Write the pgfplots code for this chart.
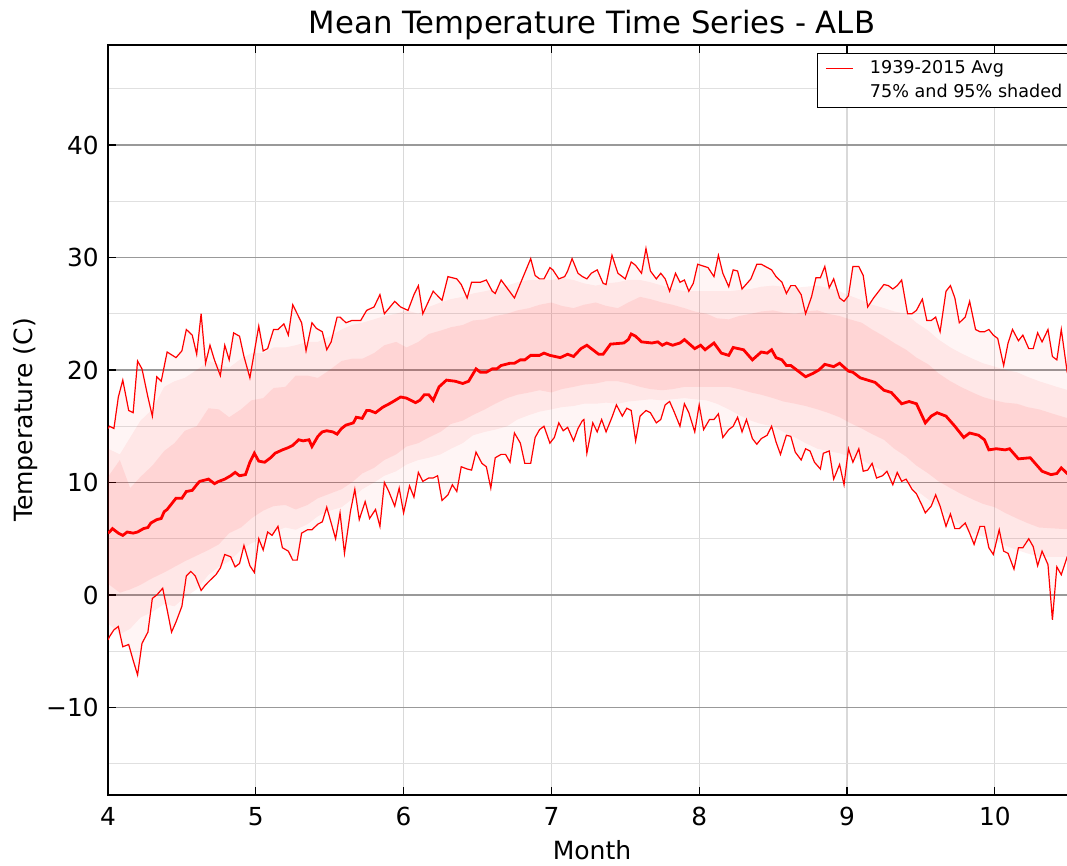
\documentclass[border=0pt]{standalone}
\usepackage{fontspec}
\setmainfont{DejaVu Sans}
\usepackage{pgfplots}
\usepackage{pgfplotstable}
\pgfplotsset{compat=1.18}
\usepgfplotslibrary{fillbetween}

% daily mean, 1939-2015 average
\pgfplotstableread{
m v
4.00 5.5
4.01 5.6
4.03 5.9
4.07 5.5
4.10 5.3
4.13 5.6
4.17 5.5
4.20 5.6
4.24 5.9
4.27 6.0
4.29 6.4
4.33 6.7
4.36 6.8
4.38 7.4
4.40 7.6
4.43 8.1
4.46 8.6
4.50 8.6
4.53 9.2
4.57 9.3
4.60 9.8
4.62 10.1
4.65 10.2
4.68 10.3
4.72 9.9
4.75 10.1
4.79 10.3
4.83 10.6
4.86 10.9
4.89 10.6
4.93 10.7
4.96 11.8
4.99 12.6
5.02 11.9
5.06 11.8
5.10 12.2
5.13 12.6
5.18 12.9
5.22 13.1
5.25 13.3
5.29 13.8
5.32 13.7
5.36 13.8
5.38 13.2
5.42 14.1
5.45 14.5
5.48 14.6
5.52 14.5
5.55 14.3
5.58 14.8
5.61 15.1
5.66 15.3
5.68 15.8
5.72 15.7
5.75 16.4
5.77 16.4
5.81 16.2
5.86 16.7
5.89 16.9
5.93 17.2
5.98 17.6
6.02 17.5
6.08 17.1
6.11 17.3
6.14 17.8
6.17 17.8
6.20 17.3
6.24 18.5
6.29 19.1
6.35 19.0
6.40 18.8
6.44 19.0
6.49 20.1
6.52 19.8
6.56 19.8
6.60 20.1
6.63 20.1
6.66 20.4
6.72 20.6
6.75 20.6
6.79 20.9
6.82 20.9
6.86 21.3
6.92 21.3
6.95 21.5
6.99 21.3
7.06 21.1
7.11 21.4
7.15 21.2
7.20 21.9
7.24 22.2
7.28 21.8
7.32 21.4
7.35 21.4
7.40 22.3
7.49 22.4
7.52 22.7
7.54 23.2
7.57 23.0
7.61 22.5
7.68 22.4
7.72 22.5
7.75 22.2
7.78 22.4
7.82 22.2
7.87 22.4
7.90 22.7
7.97 21.9
8.01 22.2
8.04 21.8
8.10 22.4
8.15 21.5
8.20 21.3
8.23 22.0
8.30 21.8
8.36 20.9
8.42 21.6
8.46 21.5
8.49 21.8
8.52 21.1
8.56 20.9
8.59 20.4
8.62 20.4
8.67 19.9
8.72 19.4
8.77 19.7
8.81 20.0
8.85 20.5
8.91 20.3
8.95 20.6
9.01 19.9
9.04 19.8
9.09 19.3
9.19 18.9
9.25 18.2
9.30 18.0
9.37 17.0
9.42 17.2
9.47 17.0
9.53 15.3
9.57 15.9
9.61 16.2
9.67 15.9
9.73 15.0
9.79 14.0
9.83 14.4
9.89 14.2
9.93 13.8
9.96 12.9
10.01 13.0
10.07 12.9
10.10 13.0
10.16 12.1
10.24 12.2
10.32 11.0
10.38 10.7
10.42 10.8
10.45 11.3
10.49 10.8
10.55 10.5
}\meantab

% record highs of the daily mean
\pgfplotstableread{
m v
4.00 14.8
4.01 15.0
4.04 14.8
4.07 17.6
4.10 19.1
4.14 16.4
4.17 16.2
4.20 20.8
4.23 20.1
4.27 17.6
4.30 15.9
4.33 19.4
4.36 19.0
4.40 21.6
4.46 21.1
4.50 21.7
4.53 23.6
4.57 23.1
4.60 21.4
4.63 25.0
4.66 20.6
4.69 22.2
4.72 20.9
4.76 19.5
4.79 22.2
4.82 20.9
4.85 23.3
4.89 23.0
4.92 21.2
4.96 19.3
4.99 21.6
5.02 23.9
5.05 21.7
5.08 21.9
5.12 23.6
5.15 23.6
5.19 24.1
5.22 23.1
5.25 25.8
5.31 24.2
5.34 21.7
5.38 24.2
5.41 23.7
5.45 23.4
5.48 21.8
5.51 22.5
5.55 24.7
5.57 24.7
5.61 24.2
5.65 24.4
5.71 24.4
5.75 25.3
5.80 25.6
5.84 26.7
5.87 25.0
5.94 26.1
5.98 25.6
6.03 25.3
6.07 26.7
6.10 27.5
6.13 25.0
6.20 27.0
6.26 26.2
6.30 28.3
6.36 28.1
6.39 27.6
6.43 26.4
6.46 27.8
6.52 27.8
6.56 28.0
6.60 27.0
6.62 26.8
6.66 28.0
6.75 26.4
6.80 28.0
6.86 29.9
6.89 28.4
6.92 28.1
6.95 28.1
6.99 29.1
7.01 28.9
7.05 28.1
7.09 28.3
7.11 28.8
7.14 29.9
7.18 28.6
7.21 28.3
7.24 28.1
7.27 28.6
7.31 28.9
7.35 27.7
7.37 27.6
7.41 30.2
7.45 28.6
7.50 28.1
7.54 29.6
7.57 29.3
7.61 28.6
7.64 30.8
7.67 28.8
7.71 28.1
7.74 28.6
7.77 28.1
7.80 27.0
7.84 28.6
7.87 27.8
7.90 28.0
7.93 27.0
7.96 27.7
7.99 29.4
8.06 29.1
8.10 28.3
8.13 30.2
8.16 28.6
8.20 27.4
8.23 28.9
8.26 28.8
8.29 27.2
8.35 28.1
8.39 29.4
8.42 29.4
8.49 28.9
8.52 28.3
8.56 27.8
8.59 26.8
8.62 27.5
8.65 27.5
8.69 26.7
8.72 25.0
8.76 26.5
8.79 28.2
8.82 28.2
8.85 29.2
8.88 27.3
8.91 28.1
8.95 26.4
8.98 26.1
9.01 26.6
9.04 29.2
9.08 29.2
9.11 28.4
9.14 25.6
9.18 26.4
9.25 27.6
9.28 27.5
9.31 27.2
9.34 27.5
9.37 28.0
9.41 25.0
9.44 25.0
9.47 25.3
9.51 26.3
9.54 24.4
9.57 24.4
9.60 24.7
9.63 23.4
9.67 27.0
9.70 27.5
9.73 26.4
9.76 24.2
9.80 24.7
9.83 26.1
9.87 23.6
9.90 23.4
9.93 23.4
9.96 23.6
9.99 23.1
10.02 22.8
10.06 20.4
10.09 22.4
10.12 23.6
10.16 22.6
10.19 23.1
10.23 21.9
10.26 21.9
10.29 23.3
10.32 22.5
10.36 23.6
10.39 21.2
10.42 20.9
10.45 23.6
10.49 19.8
10.55 18.0
}\maxtab

% record lows of the daily mean
\pgfplotstableread{
m v
4.00 -4.0
4.01 -3.7
4.04 -3.1
4.07 -2.8
4.10 -4.6
4.14 -4.4
4.17 -5.8
4.20 -7.1
4.23 -4.3
4.27 -3.3
4.30 -0.3
4.33 0.0
4.37 0.6
4.40 -1.3
4.43 -3.3
4.46 -2.4
4.50 -1.0
4.53 1.7
4.56 2.1
4.59 1.7
4.63 0.4
4.66 0.9
4.69 1.3
4.73 1.8
4.76 2.4
4.79 3.6
4.83 3.4
4.86 2.5
4.89 2.8
4.92 4.4
4.96 2.6
4.99 2.0
5.02 5.0
5.05 4.0
5.08 5.6
5.11 5.3
5.15 6.1
5.18 4.2
5.22 3.9
5.25 3.1
5.28 3.1
5.31 5.5
5.35 5.8
5.38 5.8
5.42 6.3
5.45 6.5
5.48 7.8
5.51 6.4
5.54 5.0
5.57 7.3
5.60 3.7
5.64 7.4
5.67 9.4
5.70 6.7
5.74 8.3
5.77 6.8
5.81 7.6
5.84 6.1
5.87 10.0
5.90 9.2
5.94 7.9
5.97 9.5
6.00 7.3
6.04 9.7
6.07 8.7
6.10 10.9
6.13 10.1
6.17 10.4
6.20 10.4
6.23 10.6
6.26 8.4
6.30 8.9
6.33 9.8
6.36 9.2
6.39 11.4
6.43 11.2
6.46 11.1
6.49 12.7
6.53 11.7
6.56 11.4
6.59 9.5
6.62 12.2
6.66 12.5
6.69 12.5
6.72 11.8
6.75 14.4
6.79 13.5
6.82 11.7
6.86 11.7
6.89 14.0
6.92 14.7
6.95 15.0
6.99 13.5
7.02 14.0
7.05 15.3
7.08 14.6
7.11 14.9
7.15 13.7
7.18 14.8
7.21 15.5
7.22 15.6
7.24 12.6
7.28 15.3
7.31 14.5
7.34 15.6
7.37 14.5
7.41 15.8
7.44 16.9
7.48 15.9
7.51 16.6
7.54 16.4
7.57 13.7
7.60 15.9
7.64 16.4
7.67 16.2
7.71 15.3
7.74 15.6
7.77 16.9
7.80 17.2
7.83 16.3
7.87 15.0
7.90 17.0
7.93 16.2
7.97 14.5
8.00 16.9
8.03 14.7
8.07 15.6
8.10 15.6
8.13 16.1
8.16 14.0
8.20 14.7
8.23 15.0
8.26 15.8
8.29 14.5
8.32 15.6
8.36 13.9
8.39 13.4
8.42 13.9
8.46 14.2
8.49 15.0
8.52 13.6
8.55 12.5
8.59 14.2
8.62 14.1
8.65 12.7
8.69 12.0
8.72 13.0
8.75 12.8
8.78 11.8
8.82 11.2
8.84 12.6
8.88 12.8
8.91 10.3
8.95 11.6
8.98 9.8
9.01 13.0
9.04 11.8
9.08 13.0
9.11 11.0
9.14 11.1
9.17 11.7
9.20 10.4
9.24 10.6
9.27 11.0
9.31 9.8
9.34 10.9
9.37 10.1
9.40 10.3
9.44 9.4
9.47 9.0
9.51 7.9
9.53 7.3
9.57 7.9
9.60 8.9
9.63 7.9
9.67 6.1
9.70 7.2
9.73 5.9
9.76 5.9
9.80 6.4
9.83 5.5
9.86 4.5
9.90 6.1
9.93 6.1
9.96 4.2
9.99 3.6
10.03 5.8
10.06 3.9
10.09 3.7
10.13 2.3
10.16 4.2
10.19 4.2
10.23 5.0
10.26 4.3
10.29 2.6
10.32 3.9
10.36 2.7
10.39 -2.2
10.42 2.5
10.45 1.8
10.49 3.4
10.55 4.0
}\mintab

% percentile bands: l95 l75 u75 u95
\pgfplotstableread{
m l95 l75 u75 u95
4.00 -2.5 1.0 10.5 13.0
4.08 -3.5 0.2 12.0 12.5
4.15 -3.0 0.5 9.5 14.0
4.22 -2.0 0.9 10.5 15.5
4.30 -1.5 1.5 11.5 16.5
4.38 -0.8 2.0 12.8 18.5
4.45 -1.0 2.5 13.5 19.0
4.52 -0.2 3.0 14.6 19.3
4.60 0.5 3.5 15.0 20.0
4.68 1.8 4.0 16.6 20.8
4.75 2.5 4.5 16.5 20.5
4.82 3.0 5.5 15.8 20.2
4.90 4.0 6.0 16.5 21.0
4.97 4.6 6.8 17.3 21.5
5.05 5.0 7.5 17.5 21.5
5.12 5.6 7.9 18.4 22.0
5.20 6.0 8.0 18.5 22.0
5.27 5.8 7.6 19.5 22.2
5.35 6.3 8.0 19.5 22.5
5.42 7.0 8.6 19.3 22.5
5.50 7.5 9.0 20.0 23.0
5.58 7.8 9.4 20.8 23.6
5.65 8.5 10.0 21.0 24.0
5.72 9.4 10.8 21.0 24.2
5.80 10.0 11.3 21.5 24.5
5.87 10.6 12.0 22.2 24.8
5.95 11.0 12.5 22.5 25.0
6.02 11.6 13.2 22.0 25.3
6.10 12.0 13.5 22.5 25.0
6.17 12.2 14.0 23.2 25.6
6.25 12.5 14.5 23.5 26.0
6.32 13.0 15.2 23.8 26.3
6.40 13.5 15.5 24.0 26.5
6.47 14.2 16.0 24.4 26.8
6.55 14.5 16.5 24.5 27.0
6.62 14.7 17.0 24.8 27.2
6.70 15.0 17.5 25.0 27.5
6.77 15.6 17.8 25.3 27.8
6.85 16.0 18.0 25.5 28.0
6.92 16.3 18.2 25.8 28.0
7.00 16.5 18.0 26.0 28.0
7.07 16.7 18.3 25.7 28.2
7.15 16.8 18.5 25.5 28.0
7.22 17.0 18.7 25.8 27.7
7.30 17.0 18.8 26.0 27.5
7.37 17.1 19.0 25.7 27.7
7.45 17.0 19.0 25.5 27.8
7.52 17.2 18.8 26.0 28.0
7.60 17.3 18.5 26.5 28.0
7.67 17.4 18.3 26.3 27.8
7.75 17.3 18.2 26.0 27.5
7.82 17.4 18.3 25.8 27.2
7.90 17.5 18.5 25.5 27.0
7.97 17.4 18.5 25.2 27.0
8.05 17.3 18.5 25.0 27.0
8.12 17.0 18.5 24.6 27.0
8.20 16.5 18.5 24.5 27.0
8.27 16.0 18.3 24.8 27.1
8.35 15.5 18.0 25.0 27.2
8.42 15.2 17.8 25.2 27.4
8.50 15.0 17.5 25.3 27.5
8.57 14.5 17.2 25.1 27.4
8.65 14.0 17.0 25.0 27.3
8.72 13.5 16.8 25.2 27.4
8.80 13.0 16.5 25.3 27.5
8.87 12.8 16.2 25.0 27.3
8.95 12.6 15.8 24.8 27.0
9.02 12.3 15.3 24.5 26.6
9.10 12.0 14.8 24.2 26.2
9.17 11.5 14.3 23.6 25.8
9.25 11.0 13.8 23.0 25.5
9.32 10.5 13.0 22.4 25.2
9.40 10.0 12.3 21.8 25.0
9.47 9.3 11.5 21.1 24.2
9.55 8.5 10.8 20.5 23.5
9.62 7.8 10.1 19.7 22.7
9.70 7.0 9.5 19.0 22.0
9.77 6.2 9.0 18.5 21.5
9.85 5.5 8.5 18.0 21.0
9.92 5.2 8.1 17.6 20.6
10.00 4.9 7.8 17.3 20.3
10.07 4.4 7.3 17.1 20.0
10.15 4.0 6.8 17.0 19.8
10.22 3.7 6.4 16.7 19.4
10.30 3.4 6.0 16.5 19.0
10.42 3.4 5.9 16.0 18.5
10.55 3.4 5.8 15.5 18.0
}\bandtab

\begin{document}
\begin{tikzpicture}
\begin{axis}[
    at={(0,0)}, anchor=south west,
    scale only axis,
    width=363pt, height=281.25pt,
    xmin=4, xmax=10.55,
    ymin=-17.78, ymax=48.89,
    xtick={4,5,6,7,8,9,10},
    xticklabels={4,5,6,7,8,9,10},
    ytick={-10,0,10,20,30,40},
    yticklabels={−10,0,10,20,30,40},
    minor ytick={-15,-5,5,15,25,35,45},
    xmajorgrids, ymajorgrids, yminorgrids,
    major x grid style={color=black!15, line width=0.45pt},
    major y grid style={color=black!40, line width=0.55pt},
    minor y grid style={color=black!12, line width=0.55pt},
    tick align=inside,
    major tick length=3pt,
    minor tick length=0pt,
    tick style={black, line width=0.5pt},
    axis line style={line width=0.75pt},
    ticklabel style={font=\fontsize{9.3}{11}\selectfont},
    xticklabel style={yshift=-1pt},
    title={Mean Temperature Time Series - ALB},
    every axis title/.style={at={(rel axis cs:0.5,1)}, anchor=center,
        yshift=7.6pt, font=\fontsize{11.5}{13}\selectfont},
    xlabel={Month},
    every axis x label/.style={at={(rel axis cs:0.5,0)}, anchor=center,
        yshift=-20.6pt, font=\fontsize{9.4}{11}\selectfont},
    ylabel={Temperature (C)},
    every axis y label/.style={at={(rel axis cs:0,0.5)}, anchor=center,
        rotate=90, yshift=31pt, font=\fontsize{9.4}{11}\selectfont},
    legend style={at={(rel axis cs:0.7324,0.9893)}, anchor=north west,
        draw=black, line width=0.55pt, fill=white,
        font=\fontsize{6.6}{8}\selectfont,
        inner xsep=2.75pt, inner ysep=1.6pt, row sep=1pt, column sep=3pt,
        nodes={inner xsep=3.2pt, inner ysep=0.75pt, text height=5pt, text depth=1.5pt}},
    legend cell align=left,
    legend image code/.code={\draw[#1] (0pt,0pt) -- (10pt,0pt);},
]
\addplot[draw=none, name path=hi, forget plot] table[x=m, y=v] {\maxtab};
\addplot[draw=none, name path=lo, forget plot] table[x=m, y=v] {\mintab};
\addplot[draw=none, name path=u95, forget plot] table[x=m, y=u95] {\bandtab};
\addplot[draw=none, name path=l95, forget plot] table[x=m, y=l95] {\bandtab};
\addplot[draw=none, name path=u75, forget plot] table[x=m, y=u75] {\bandtab};
\addplot[draw=none, name path=l75, forget plot] table[x=m, y=l75] {\bandtab};

\addplot[red, fill opacity=0.04, draw=none, forget plot] fill between[of=hi and lo];
\addplot[red, fill opacity=0.06, draw=none, forget plot] fill between[of=u95 and l95];
\addplot[red, fill opacity=0.08, draw=none, forget plot] fill between[of=u75 and l75];

\addplot[red, line width=0.45pt, forget plot] table[x=m, y=v] {\maxtab};
\addplot[red, line width=0.45pt, forget plot] table[x=m, y=v] {\mintab};
\addplot[red, line width=1.05pt, forget plot] table[x=m, y=v] {\meantab};

\addlegendimage{red, line width=0.6pt}
\addlegendentry{1939-2015 Avg}
\addlegendimage{empty legend}
\addlegendentry{75\% and 95\% shaded}
\end{axis}
\pgfresetboundingbox
\useasboundingbox (-40.5pt,-26.25pt) rectangle (359.6pt,298.125pt);
\end{tikzpicture}
\end{document}
